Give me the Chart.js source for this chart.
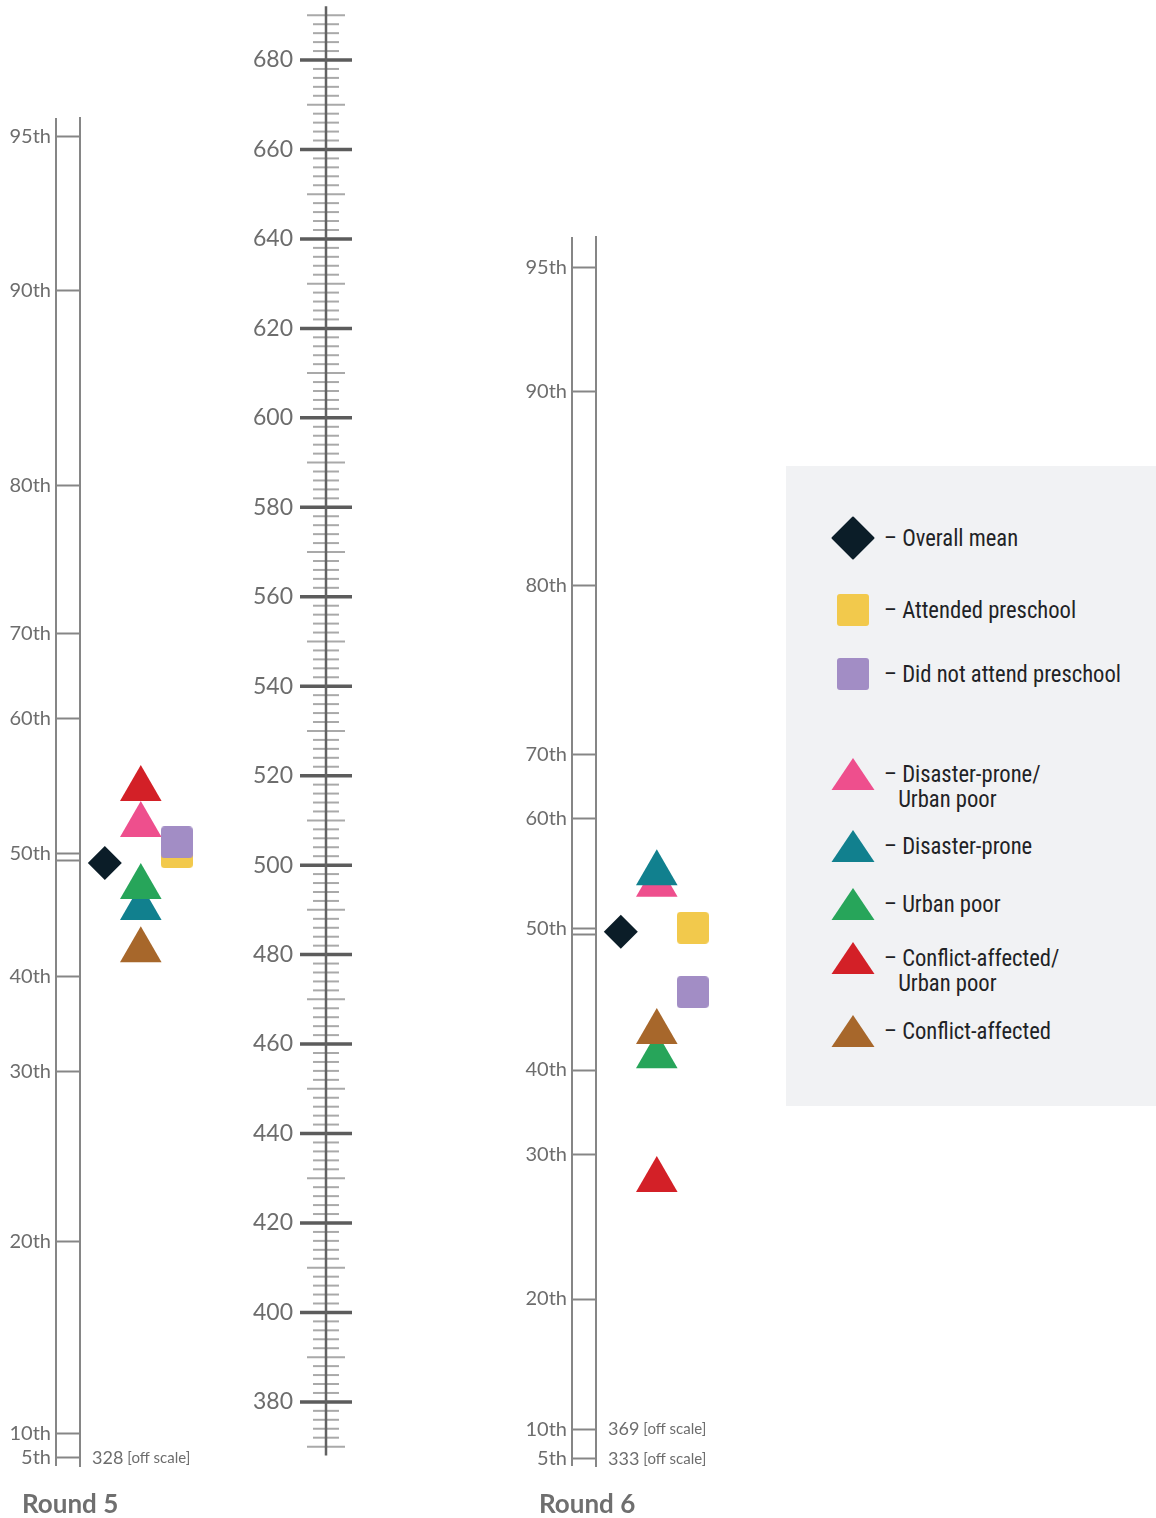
<!DOCTYPE html>
<html lang="en">
<head>
<meta charset="utf-8">
<title>Round 5 / Round 6 scores</title>
<script src="https://cdn.jsdelivr.net/npm/chart.js@4.4.1/dist/chart.umd.min.js"></script>
<style>
    html, body { margin: 0; padding: 0; background: #ffffff; }
    #page { position: relative; width: 1156px; height: 1518px; overflow: hidden; }
    #page canvas { position: absolute; top: 0; }
    .round-title { position: absolute; top: 1487px; font-family: Lato, sans-serif; font-weight: 700;
                   font-size: 26px; line-height: 32px; color: #6f6f6f; }
    #legend { position: absolute; left: 786px; top: 466px; width: 370px; height: 640px; background: #f1f2f4; }
    #legend .lg-icon { left: 43px; }
    #legend .lg-text { position: absolute; left: 98px; font-size: 24px; line-height: 25px; color: #1f2326;
                       white-space: nowrap; transform-origin: left center; }
    #legend .lg-text .cont { padding-left: 15px; }
</style>
</head>
<body>
<div id="page">
    <canvas id="round5-chart" width="230" height="1518" style="left:0px"></canvas>
    <canvas id="ruler-chart" width="140" height="1518" style="left:240px"></canvas>
    <canvas id="round6-chart" width="246" height="1518" style="left:500px"></canvas>
    <div class="round-title" style="left:22px">Round 5</div>
    <div class="round-title" style="left:539px">Round 6</div>
    <div id="legend"></div>
</div>
<script>
// ---------------------------------------------------------------------------
// Data — scale scores
// ---------------------------------------------------------------------------

const GROUPS = [
    "Overall mean",
    "Attended preschool",
    "Did not attend preschool",
    "Disaster-prone/Urban poor",
    "Disaster-prone",
    "Urban poor",
    "Conflict-affected/Urban poor",
    "Conflict-affected",
];

const ROUND5_SCORES = [500.5, 502.9, 505.1, 509.0, 490.4, 495.1, 517.0, 481.0];
const ROUND6_SCORES = [485.1, 486.0, 471.6, 495.6, 498.2, 457.3, 429.6, 462.7];

// percentile ticks (the 50th is a double line); scores below 370 sit in an off-scale slot
const PERCENTILE_LABELS = ["95th", "90th", "80th", "70th", "60th", "50th", "", "40th", "30th", "20th", "10th", "5th"];
const ROUND5_PERCENTILES = [662.8, 628.4, 584.8, 551.7, 532.7, 502.7, 501.1, 475.0, 453.8, 415.8, 373.0, 367.5];
const ROUND6_PERCENTILES = [633.5, 605.8, 562.6, 524.8, 510.5, 485.9, 484.4, 454.2, 435.2, 403.0, 373.8, 367.3];
const ROUND5_OFF_SCALE = ["", "", "", "", "", "", "", "", "", "", "", "328"];
const ROUND6_OFF_SCALE = ["", "", "", "", "", "", "", "", "", "", "369", "333"];

// score ruler between the two rounds
const RULER_MIN = 370;
const RULER_MAX = 690;
const RULER_STEP = 2;
const RULER_LABEL_STEP = 20;

// ---------------------------------------------------------------------------
// Styling
// ---------------------------------------------------------------------------

const GROUP_COLORS = ["#0b1d28", "#f2c94c", "#a28dc5", "#ee4f8d", "#11808e", "#27a55a", "#d32027", "#a7672b"];
const GROUP_SHAPES = ["diamond", "square", "square", "triangle", "triangle", "triangle", "triangle", "triangle"];
const GROUP_COLUMN = [0, 2, 2, 1, 1, 1, 1, 1];
const GROUP_ORDER = [0, 2, 1, 7, 6, 5, 3, 4]; // lower is drawn on top
const LEGEND_ROW_Y = [72, 144, 208, 308, 380, 438, 492, 565];

const AXIS_GREY = "#868686";
const LABEL_GREY = "#6d6d6d";
const PAGE_H = 1518;
const PX_PER_POINT = 4.473; // vertical pixels per score point
const Y_OF_680 = 60;        // page y of the 680 mark

function scoreAt(y) {
    return 680 - (y - Y_OF_680) / PX_PER_POINT;
}

function yAt(score) {
    return Y_OF_680 + (680 - score) * PX_PER_POINT;
}

function roundedSquare(size, color) {
    const c = document.createElement("canvas");
    c.width = size;
    c.height = size;
    const g = c.getContext("2d");
    g.fillStyle = color;
    g.beginPath();
    g.roundRect(0, 0, size, size, 4);
    g.fill();
    return c;
}

function markerStyle(shape, color) {
    if (shape === "diamond") return { pointStyle: "rectRot", pointRadius: 17 };
    if (shape === "triangle") return { pointStyle: "triangle", pointRadius: 24 };
    return { pointStyle: roundedSquare(32, color), pointRadius: 16 };
}

// ---------------------------------------------------------------------------
// Plugins
// ---------------------------------------------------------------------------

// second rail of a percentile axis + the "[off scale]" notes
const percentileFrame = {
    id: "percentileFrame",
    afterDraw(chart, args, opts) {
        const { ctx, chartArea } = chart;
        const y = chart.scales.y;
        const rail = chartArea.left - y.options.grid.tickLength;
        ctx.save();
        ctx.strokeStyle = AXIS_GREY;
        ctx.lineWidth = 2;
        ctx.beginPath();
        ctx.moveTo(rail, chartArea.top);
        ctx.lineTo(rail, chartArea.bottom);
        ctx.stroke();

        ctx.textBaseline = "middle";
        ctx.fillStyle = LABEL_GREY;
        y.ticks.forEach((t, i) => {
            const note = opts.offScale[i];
            if (!note) return;
            const py = y.getPixelForValue(t.value);
            let x = chartArea.left + 12;
            ctx.font = "18px Lato";
            ctx.fillText(note, x, py);
            x += ctx.measureText(note).width + 4;
            ctx.font = "15px Lato";
            ctx.fillText("[off scale]", x, py);
        });
        ctx.restore();
    },
};

// symmetric ruler marks: long every 20, medium every 10, short every 2
const rulerMarks = {
    id: "rulerMarks",
    afterDraw(chart) {
        const { ctx, chartArea } = chart;
        const s = chart.scales.y;
        const cx = chartArea.left;
        ctx.save();
        s.ticks.forEach((t) => {
            const v = t.value;
            const major = v % RULER_LABEL_STEP === 0;
            const mid = v % (RULER_LABEL_STEP / 2) === 0;
            const half = major ? 26 : mid ? 19 : 13;
            const py = s.getPixelForValue(v);
            ctx.strokeStyle = major ? "#5c5c5c" : "#a9a9a9";
            ctx.lineWidth = major ? 3.5 : 2;
            ctx.beginPath();
            ctx.moveTo(cx - half, py);
            ctx.lineTo(cx + half, py);
            ctx.stroke();
        });
        ctx.strokeStyle = "#626262";
        ctx.lineWidth = 2.5;
        ctx.beginPath();
        ctx.moveTo(cx, chartArea.top);
        ctx.lineTo(cx, chartArea.bottom);
        ctx.stroke();
        ctx.restore();
    },
};

// ---------------------------------------------------------------------------
// Charts
// ---------------------------------------------------------------------------

function roundChart(canvasId, scores, percentiles, offScale, axisWidth, areaTop, areaBottom) {
    return new Chart(document.getElementById(canvasId), {
        type: "scatter",
        data: {
            datasets: GROUPS.map((name, i) => ({
                label: name,
                data: [{ x: GROUP_COLUMN[i], y: scores[i] }],
                pointBackgroundColor: GROUP_COLORS[i],
                pointBorderColor: GROUP_COLORS[i],
                pointBorderWidth: 0,
                order: GROUP_ORDER[i],
                ...markerStyle(GROUP_SHAPES[i], GROUP_COLORS[i]),
            })),
        },
        options: {
            responsive: false,
            animation: false,
            devicePixelRatio: 1,
            layout: {
                autoPadding: false,
                padding: { top: areaTop, bottom: PAGE_H - areaBottom, left: 0, right: 0 },
            },
            plugins: {
                legend: { display: false },
                tooltip: { enabled: false },
                percentileFrame: { offScale },
            },
            scales: {
                x: { type: "linear", display: false, min: -0.69, max: 3.48 },
                y: {
                    type: "linear",
                    position: "left",
                    bounds: "data",
                    min: scoreAt(areaBottom),
                    max: scoreAt(areaTop),
                    afterBuildTicks: (s) => { s.ticks = percentiles.map((v) => ({ value: v })); },
                    afterFit: (s) => { s.width = axisWidth; s.paddingTop = 0; s.paddingBottom = 0; },
                    ticks: {
                        autoSkip: false,
                        padding: 5,
                        color: LABEL_GREY,
                        font: { family: "Lato", size: 20 },
                        callback: (v, i) => PERCENTILE_LABELS[i],
                    },
                    grid: { drawOnChartArea: false, tickLength: 24, tickWidth: 2, tickColor: AXIS_GREY },
                    border: { display: true, width: 2, color: AXIS_GREY },
                },
            },
        },
        plugins: [percentileFrame],
    });
}

function rulerChart() {
    // one step of spare line beyond the end marks
    const lo = RULER_MIN - RULER_STEP;
    const hi = RULER_MAX + RULER_STEP;
    return new Chart(document.getElementById("ruler-chart"), {
        type: "scatter",
        data: { datasets: [] },
        options: {
            responsive: false,
            animation: false,
            devicePixelRatio: 1,
            layout: {
                autoPadding: false,
                padding: { top: yAt(hi), bottom: PAGE_H - yAt(lo), left: 0, right: 0 },
            },
            plugins: { legend: { display: false }, tooltip: { enabled: false } },
            scales: {
                x: { type: "linear", display: false, min: -1, max: 1 },
                y: {
                    type: "linear",
                    position: "left",
                    bounds: "data",
                    min: lo,
                    max: hi,
                    afterBuildTicks: (s) => {
                        s.ticks = s.ticks.filter((t) => t.value >= RULER_MIN && t.value <= RULER_MAX);
                    },
                    afterFit: (s) => { s.width = 86; s.paddingTop = 0; s.paddingBottom = 0; },
                    ticks: {
                        stepSize: RULER_STEP,
                        includeBounds: false,
                        autoSkip: false,
                        padding: 33,
                        color: LABEL_GREY,
                        font: { family: "Lato", size: 23 },
                        callback: (v) => (v % RULER_LABEL_STEP === 0 ? String(v) : ""),
                    },
                    grid: { drawOnChartArea: false, drawTicks: false },
                    border: { display: false },
                },
            },
        },
        plugins: [rulerMarks],
    });
}

// ---------------------------------------------------------------------------
// Legend (HTML)
// ---------------------------------------------------------------------------

function pickCondensedFont() {
    const g = document.createElement("canvas").getContext("2d");
    const probe = "Did not attend preschool";
    g.font = "24px monospace";
    const base = g.measureText(probe).width;
    const candidates = ['"Liberation Sans Narrow"', '"Roboto Condensed"', '"DejaVu Sans Condensed"', "Roboto"];
    for (const f of candidates) {
        g.font = `24px ${f}, monospace`;
        if (g.measureText(probe).width !== base) return f;
    }
    return "sans-serif";
}

// horizontal squeeze so the longest legend line keeps its width (237px)
function legendSqueeze(font) {
    const g = document.createElement("canvas").getContext("2d");
    g.font = `24px ${font}`;
    const w = g.measureText("\u2013 Did not attend preschool").width;
    return Math.min(1, 237 / w);
}

function drawLegendIcon(g, shape, color, cx, cy) {
    g.fillStyle = color;
    g.strokeStyle = color;
    g.lineJoin = "round";
    g.beginPath();
    if (shape === "diamond") {
        g.moveTo(cx, cy - 20.5);
        g.lineTo(cx + 20.5, cy);
        g.lineTo(cx, cy + 20.5);
        g.lineTo(cx - 20.5, cy);
        g.closePath();
        g.lineWidth = 2;
        g.fill();
        g.stroke();
        return;
    }
    if (shape === "square") {
        g.roundRect(cx - 16, cy - 16, 32, 32, 3);
    } else {
        g.moveTo(cx, cy - 16);
        g.lineTo(cx + 21.5, cy + 16);
        g.lineTo(cx - 21.5, cy + 16);
        g.closePath();
    }
    g.fill();
}

function buildLegend() {
    const box = document.getElementById("legend");
    const font = pickCondensedFont();
    const squeeze = legendSqueeze(font);
    GROUPS.forEach((name, i) => {
        const cy = LEGEND_ROW_Y[i];
        const icon = document.createElement("canvas");
        icon.width = 48;
        icon.height = 48;
        icon.className = "lg-icon";
        icon.style.top = `${cy - 24}px`;
        drawLegendIcon(icon.getContext("2d"), GROUP_SHAPES[i], GROUP_COLORS[i], 24, 24);
        box.appendChild(icon);

        const text = document.createElement("div");
        text.className = "lg-text";
        text.style.top = `${cy - 12.5}px`;
        text.style.fontFamily = `${font}, sans-serif`;
        text.style.transform = `scaleX(${squeeze})`;
        const slash = name.indexOf("/");
        const first = slash >= 0 ? name.slice(0, slash + 1) : name;
        const rest = slash >= 0 ? name.slice(slash + 1) : "";
        text.innerHTML = `<div>\u2013 ${first}</div>` + (rest ? `<div class="cont">${rest}</div>` : "");
        box.appendChild(text);
    });
}

// ---------------------------------------------------------------------------
// Init
// ---------------------------------------------------------------------------

roundChart("round5-chart", ROUND5_SCORES, ROUND5_PERCENTILES, ROUND5_OFF_SCALE, 80, 118, 1466);
rulerChart();
roundChart("round6-chart", ROUND6_SCORES, ROUND6_PERCENTILES, ROUND6_OFF_SCALE, 96, 237, 1466);
buildLegend();
</script>
</body>
</html>
